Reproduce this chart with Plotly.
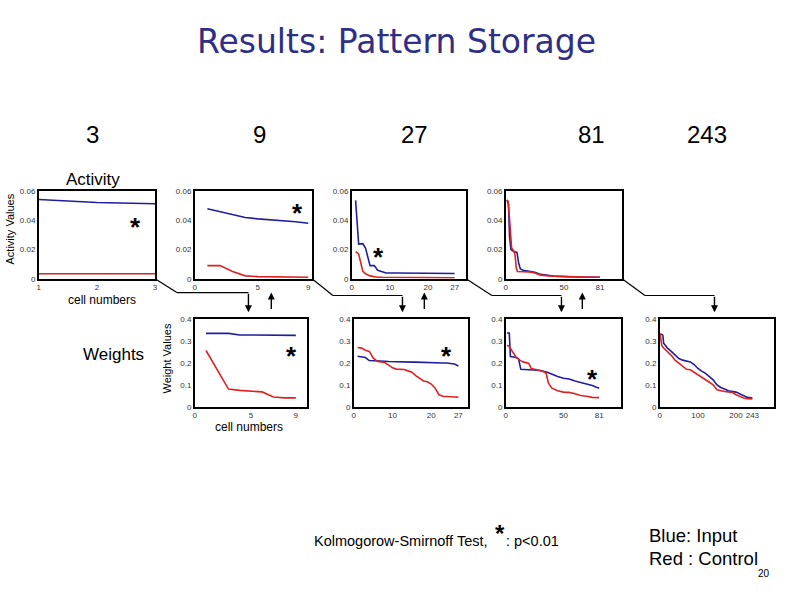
import plotly.graph_objects as go

W, H = 794, 595
BLUE = '#1f1f9e'
RED = '#dd2222'
FONT = 'Liberation Sans, Arial, sans-serif'

# ---- data ----
# activity, 3 cells
act3_x = [1, 2, 3]
act3_blue = [0.0543, 0.0522, 0.0514]
act3_red = [0.0034, 0.0034, 0.0034]

# activity, 9 cells
act9_x = [1, 2, 3, 4, 5, 6, 7, 8, 9]
act9_blue = [0.048, 0.046, 0.0435, 0.042, 0.041, 0.0403, 0.040, 0.039, 0.038]
act9_red = [0.009, 0.009, 0.005, 0.002, 0.0015, 0.0015, 0.0013, 0.0012, 0.001]

# activity, 27 cells
act27_x = [1, 1.8, 2.9, 3.6, 4.8, 5.9, 6.8, 8, 9, 12, 16, 20, 24, 27]
act27_blue = [0.0537, 0.0237, 0.024, 0.021, 0.009, 0.009, 0.0058, 0.0047, 0.004, 0.004, 0.004, 0.0038, 0.0037, 0.0036]
act27_red = [0.0186, 0.017, 0.0051, 0.0034, 0.002, 0.0013, 0.0011, 0.001, 0.001, 0.0009, 0.0008, 0.0008, 0.0007, 0.0007]

# activity, 81 cells
act81_bx = [1, 2.3, 3.2, 4.4, 6.7, 9.6, 11, 12.5, 15, 25, 30, 41, 60, 81]
act81_blue = [0.054, 0.051, 0.029, 0.020, 0.0186, 0.018, 0.011, 0.0067, 0.0058, 0.0045, 0.003, 0.0018, 0.0012, 0.001]
act81_rx = [1, 2, 3.5, 5, 7, 8, 9, 10, 20, 25, 30, 40, 60, 81]
act81_red = [0.054, 0.053, 0.038, 0.021, 0.019, 0.016, 0.0074, 0.005, 0.0047, 0.004, 0.0025, 0.0018, 0.0013, 0.0011]

# weights, 9 cells
w9_x = [1, 2, 3, 4, 5, 6, 7, 8, 9]
w9_blue = [0.335, 0.335, 0.335, 0.328, 0.327, 0.327, 0.326, 0.326, 0.326]
w9_red = [0.257, 0.166, 0.081, 0.075, 0.071, 0.068, 0.045, 0.041, 0.041]

# weights, 27 cells
w27_x = list(range(1, 28))
w27_blue = [0.231, 0.229, 0.225, 0.211, 0.211, 0.211, 0.209, 0.208, 0.207, 0.206, 0.205, 0.205,
            0.204, 0.204, 0.204, 0.204, 0.203, 0.202, 0.201, 0.201, 0.2, 0.2, 0.2, 0.2, 0.198, 0.195, 0.186]
w27_red = [0.271, 0.268, 0.258, 0.253, 0.223, 0.208, 0.205, 0.202, 0.19, 0.178, 0.172, 0.17,
           0.17, 0.164, 0.158, 0.142, 0.13, 0.118, 0.114, 0.104, 0.085, 0.055, 0.048, 0.046, 0.045, 0.045, 0.044]

# weights, 81 cells
w81_bx = [1, 3, 4, 8, 11, 13, 20, 30, 36, 40, 45, 50, 55, 60, 65, 70, 75, 78, 81]
w81_blue = [0.337, 0.337, 0.229, 0.226, 0.22, 0.171, 0.169, 0.166, 0.158, 0.148, 0.138, 0.13,
            0.127, 0.118, 0.112, 0.105, 0.097, 0.09, 0.085]
w81_rx = [1, 3, 6, 9, 12, 15, 20, 22, 27, 33, 35, 37, 40, 45, 50, 55, 60, 65, 70, 75, 81]
w81_red = [0.28, 0.277, 0.25, 0.226, 0.213, 0.205, 0.198, 0.175, 0.169, 0.16, 0.153, 0.108,
           0.085, 0.073, 0.067, 0.066, 0.06, 0.052, 0.048, 0.043, 0.042]

# weights, 243 cells
w243_bx = [1, 5, 8, 10, 20, 30, 40, 50, 60, 80, 90, 100, 110, 120, 130, 140, 150, 160, 170, 180,
           200, 210, 220, 230, 243]
w243_blue = [0.334, 0.33, 0.327, 0.29, 0.268, 0.253, 0.235, 0.22, 0.213, 0.205, 0.193, 0.175, 0.163,
             0.153, 0.138, 0.123, 0.1, 0.088, 0.081, 0.073, 0.067, 0.06, 0.051, 0.043, 0.04]
w243_rx = [1, 5, 10, 20, 30, 40, 50, 60, 70, 80, 90, 100, 110, 120, 130, 140, 150, 170, 180, 190,
           200, 210, 220, 230, 243]
w243_red = [0.333, 0.28, 0.268, 0.253, 0.235, 0.213, 0.198, 0.184, 0.171, 0.169, 0.158, 0.146, 0.134,
            0.127, 0.112, 0.1, 0.078, 0.07, 0.067, 0.066, 0.055, 0.048, 0.04, 0.037, 0.036]

act_ticks = [0, 0.02, 0.04, 0.06]
act_ticktext = ['0', '0.02', '0.04', '0.06']
w_ticks = [0, 0.1, 0.2, 0.3, 0.4]
w_ticktext = ['0', '0.1', '0.2', '0.3', '0.4']
col_labels = ['3', '9', '27', '81', '243']

# panels: (pixel box x0, x1, y0, y1), x range, x ticks, series
panels = [
    ((37, 154, 190, 279), [1, 3], [1, 2, 3], 'act', [(act3_x, act3_blue, BLUE), (act3_x, act3_red, RED)]),
    ((194, 312, 190, 279), [0, 9.3], [0, 5, 9], 'act', [(act9_x, act9_blue, BLUE), (act9_x, act9_red, RED)]),
    ((352, 467, 190, 279), [0, 30], [0, 10, 20, 27], 'act', [(act27_x, act27_blue, BLUE), (act27_x, act27_red, RED)]),
    ((507, 624, 190, 279), [0, 100], [0, 50, 81], 'act', [(act81_bx, act81_blue, BLUE), (act81_rx, act81_red, RED)]),
    ((194, 307, 320, 409), [0, 10], [0, 5, 9], 'w', [(w9_x, w9_blue, BLUE), (w9_x, w9_red, RED)]),
    ((354, 469, 320, 409), [0, 29.5], [0, 10, 20, 27], 'w', [(w27_x, w27_blue, BLUE), (w27_x, w27_red, RED)]),
    ((507, 623, 320, 409), [0, 100], [0, 50, 81], 'w', [(w81_bx, w81_blue, BLUE), (w81_rx, w81_red, RED)]),
    ((662, 777, 320, 409), [0, 300], [0, 100, 200, 243], 'w', [(w243_bx, w243_blue, BLUE), (w243_rx, w243_red, RED)]),
]


def px(x):
    return x / W


def py(y):
    return 1 - y / H


fig = go.Figure()
layout = {}
for i, (box, xr, xt, kind, series) in enumerate(panels):
    n = '' if i == 0 else str(i + 1)
    for sx, sy, c in series:
        fig.add_trace(go.Scatter(x=sx, y=sy, mode='lines', line=dict(color=c, width=1.6),
                                 xaxis='x' + n, yaxis='y' + n, showlegend=False, hoverinfo='skip'))
    x0, x1, y0, y1 = box
    axstyle = dict(showline=True, mirror=True, linecolor='black', linewidth=1.5, showgrid=False,
                   zeroline=False, ticks='', tickfont=dict(family=FONT, size=8, color='#333'))
    layout['xaxis' + n] = dict(axstyle, domain=[px(x0), px(x1)], range=xr, tickvals=xt,
                               anchor='y' + n, ticklabelstandoff=0)
    if kind == 'act':
        layout['yaxis' + n] = dict(axstyle, domain=[py(y1), py(y0)], range=[0, 0.06],
                                   tickvals=act_ticks, ticktext=act_ticktext, anchor='x' + n)
    else:
        layout['yaxis' + n] = dict(axstyle, domain=[py(y1), py(y0)], range=[0, 0.4],
                                   tickvals=w_ticks, ticktext=w_ticktext, anchor='x' + n)

ann = []


def text(x, y, s, size, **kw):
    d = dict(x=px(x), y=py(y), xref='paper', yref='paper', text=s, showarrow=False,
             xanchor='center', yanchor='middle',
             font=dict(family=FONT, size=size, color='black'))
    d.update(kw)
    ann.append(d)


# column labels
for lx, s in zip([91, 259, 415, 593, 709], col_labels):
    text(lx, 132, s, 24)

text(92, 178, 'Activity', 17)
text(8, 228, 'Activity Values', 11, textangle=-90)
text(101, 301, 'cell numbers', 12)
text(112, 356, 'Weights', 17)
text(166, 360, 'Weight Values', 11, textangle=-90)
text(249, 430, 'cell numbers', 12)

# significance stars
for sx, sy in [(134, 226), (297, 212), (379, 257), (291, 357), (447, 357), (594, 381)]:
    text(sx, sy, '<b>*</b>', 26)

text(312, 545, 'Kolmogorow-Smirnoff Test, ', 14.5, xanchor='left')
text(501, 538, '<b>*</b>', 24)
text(505, 545, ': p<0.01', 14.5, xanchor='left')
text(649, 540, 'Blue: Input', 18.5, xanchor='left')
text(649, 563, 'Red : Control', 18.5, xanchor='left')
text(767, 578, '20', 10)

text(397, 38, 'Results: Pattern Storage', 33,
     font=dict(family='DejaVu Sans', size=33, color='#2e2f85'))

# connectors from activity panels down to weight panels
shapes = []
conn = [((154, 279), (176, 293), 248, 271), ((312, 279), (333, 296), 403, 425),
        ((467, 279), (493, 296), 563, 584), ((624, 279), (647, 296), 717, None)]
for (ax0, ay0), (hx, hy), dx, ux in conn:
    shapes.append(dict(type='line', xref='paper', yref='paper', x0=px(ax0), y0=py(ay0),
                       x1=px(hx), y1=py(hy), line=dict(color='black', width=1.2)))
    shapes.append(dict(type='line', xref='paper', yref='paper', x0=px(hx), y0=py(hy),
                       x1=px(dx), y1=py(hy), line=dict(color='black', width=1.2)))
    ann.append(dict(x=px(dx), y=py(313), xref='paper', yref='paper', ax=0, ay=-(313 - hy),
                    text='', showarrow=True, arrowhead=2, arrowsize=1, arrowwidth=1.4, arrowcolor='black'))
    if ux is not None:
        ann.append(dict(x=px(ux), y=py(293), xref='paper', yref='paper', ax=0, ay=18,
                        text='', showarrow=True, arrowhead=2, arrowsize=1, arrowwidth=1.4, arrowcolor='black'))

fig.update_layout(width=W, height=H, margin=dict(l=0, r=0, t=0, b=0), plot_bgcolor='white',
                  paper_bgcolor='white', annotations=ann, shapes=shapes, **layout)
fig.write_html('out.html', config={'displayModeBar': False},
               post_script="document.body.style.margin='0px';")
